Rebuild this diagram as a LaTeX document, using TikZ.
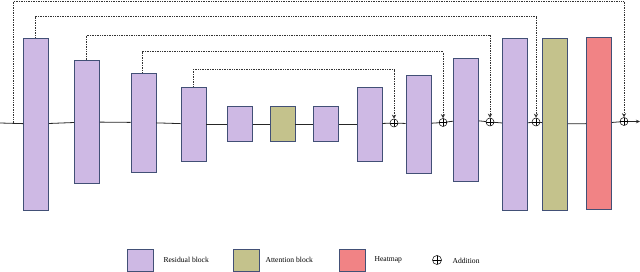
\documentclass[tikz,border=0pt]{standalone}
\usepackage{fontspec}
\setmainfont{Liberation Serif}
\usepackage{xcolor}
\usetikzlibrary{arrows.meta,positioning}

\definecolor{rescol}{RGB}{206,185,228}
\definecolor{attcol}{RGB}{196,194,140}
\definecolor{heatcol}{RGB}{241,131,133}
\definecolor{edgecol}{RGB}{66,80,118}

\begin{document}
\begin{tikzpicture}[
  x=1pt, y=-1pt,
  blk/.style={draw=edgecol, line width=0.9pt, minimum width=25pt, inner sep=0pt},
  res/.style={blk, fill=rescol},
  att/.style={blk, fill=attcol},
  heat/.style={blk, fill=heatcol},
  add/.style={circle, draw, line width=0.5pt, minimum size=8pt, inner sep=0pt,
    path picture={\draw[line width=0.5pt] (path picture bounding box.north) -- (path picture bounding box.south)
      (path picture bounding box.west) -- (path picture bounding box.east);}},
  flow/.style={line width=0.8pt, black!85},
  skip/.style={-{Stealth[length=4pt,width=4pt]}, densely dotted, line width=0.7pt, black!80},
  lbl/.style={anchor=west, font=\fontsize{7.6}{9}\selectfont}
]
  \useasboundingbox (0,0) rectangle (640,272);

  % encoder
  \coordinate (in) at (0,123);
  \coordinate (s0) at (13,123);
  \node[res, minimum height=172pt] (b1) at (36,124) {};
  \node[res, minimum height=123pt] (b2) at (87,122) {};
  \node[res, minimum height=99pt] (b3) at (143.5,122.5) {};
  \node[res, minimum height=74pt] (b4) at (193.5,124) {};
  % bottleneck
  \node[res, minimum height=35pt] (b5) at (240,124) {};
  \node[att, minimum height=35pt] (b6) at (282.5,124) {};
  \node[res, minimum height=35pt] (b7) at (326,124) {};
  % decoder
  \node[res, minimum height=74pt] (b8) at (369.5,124) {};
  \node[add] (p1) at (394,123) {};
  \node[res, minimum height=98pt] (b9) at (418.5,124) {};
  \node[add] (p2) at (443,122.5) {};
  \node[res, minimum height=123pt] (b10) at (466,119.5) {};
  \node[add] (p3) at (490,122) {};
  \node[res, minimum height=172pt] (b11) at (515,124) {};
  \node[add] (p4) at (536,122) {};
  \node[att, minimum height=172pt] (b12) at (555,124) {};
  \node[heat, minimum height=172pt] (b13) at (599,123.5) {};
  \node[add] (p5) at (624,121.5) {};
  \coordinate (out) at (640,121.5);

  \draw[flow] (in) -- (b1);
  \draw[flow] (b1) -- (b2);
  \draw[flow] (b2) -- (b3);
  \draw[flow] (b3) -- (b4);
  \draw[flow] (b4) -- (b5);
  \draw[flow] (b5) -- (b6);
  \draw[flow] (b6) -- (b7);
  \draw[flow] (b7) -- (b8);
  \draw[flow] (b8) -- (p1);
  \draw[flow] (p1) -- (b9);
  \draw[flow] (b9) -- (p2);
  \draw[flow] (p2) -- (b10);
  \draw[flow] (b10) -- (p3);
  \draw[flow] (p3) -- (b11);
  \draw[flow] (b11) -- (p4);
  \draw[flow] (p4) -- (b12);
  \draw[flow] (b12) -- (b13);
  \draw[flow] (b13) -- (p5);
  \draw[flow, -{Stealth[length=4pt,width=3.5pt]}] (p5) -- (out);

  % skip connections
  \draw[skip] (s0) -- ++(0,-121.5) -| (p5.north);
  \draw[skip] ([xshift=-1pt]b1.north) -- ++(0,-21) -| (p4.north);
  \draw[skip] ([xshift=-1pt]b2.north) -- ++(0,-25) -| (p3.north);
  \draw[skip] ([xshift=-1.5pt]b3.north) -- ++(0,-21) -| (p2.north);
  \draw[skip] ([xshift=-0.5pt]b4.north) -- ++(0,-17) -| (p1.north);

  % legend
  \node[res, minimum width=26pt, minimum height=22pt] (kres) at (140,260) {};
  \node[lbl] (tres) at (160,260) {Residual block};
  \node[att, minimum width=26pt, minimum height=22pt] (katt) at (246,260) {};
  \node[lbl] (tatt) at (262,260) {Attention block};
  \node[heat, minimum width=26pt, minimum height=22pt] (kheat) at (352.5,260) {};
  \node[lbl] (theat) at (371,260) {Heatmap};
  \node[add, minimum size=9pt] (kadd) at (437,260) {};
  \node[lbl] (tadd) at (449,260.5) {Addition};
\end{tikzpicture}
\end{document}
